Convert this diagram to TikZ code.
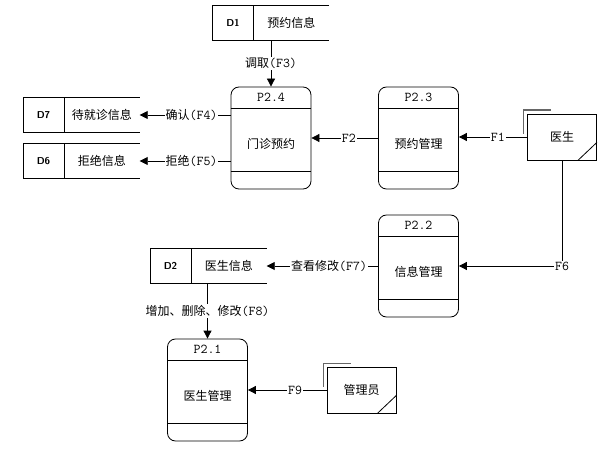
\documentclass[tikz,border=0pt]{standalone}
\usepackage{fontspec}
\setmainfont{Noto Sans CJK SC}
\usetikzlibrary{arrows.meta,positioning}
\newcommand\fid[1]{{\ttfamily\fontsize{13.5}{15}\selectfont#1}}

\begin{document}
\begin{tikzpicture}[x=1pt,y=-1pt,line width=0.8pt,font=\fontsize{12}{14}\selectfont,
		proc/.style={draw,rounded corners=8pt,minimum width=80pt,minimum height=102pt,inner sep=0pt},
		storeid/.style={minimum width=40pt,minimum height=34pt,inner sep=0pt,font=\sffamily\bfseries\fontsize{10}{12}\selectfont},
		storename/.style={minimum width=75pt,minimum height=34pt,inner sep=0pt},
		entity/.style={draw,minimum width=69pt,minimum height=46pt,inner sep=0pt},
		flow/.style={-{Triangle[length=8pt,width=8pt]}},
		lbl/.style={fill=white,inner sep=1pt}]
		\useasboundingbox (0,0) rectangle (599,454);
		\node[proc] (p24) at (271,138) {};
		\node[proc] (p23) at (418.5,138) {};
		\node[proc] (p22) at (418.5,266) {};
		\node[proc] (p21) at (207.5,390) {};
		\foreach \p/\n/\t in {p24/P2.4/门诊预约,p23/P2.3/预约管理,p22/P2.2/信息管理,p21/P2.1/医生管理} {
			\draw ([yshift=-22pt]\p.north west) -- ([yshift=-22pt]\p.north east);
			\draw ([yshift=18pt]\p.south west) -- ([yshift=18pt]\p.south east);
			\node (\p-id) at ([yshift=-11pt]\p.north) {\fid{\n}};
			\node (\p-name) at ([yshift=-6pt]\p.center) {\t};
		}
		\foreach \d/\i/\t/\x/\y in {d1/D1/预约信息/233/23,d7/D7/待就诊信息/43.5/115,d6/D6/拒绝信息/43.5/161,d2/D2/医生信息/170.5/266} {
			\node[storeid] (\d-id) at (\x,\y) {\i};
			\node[storename,right=0pt of \d-id] (\d) {\t};
			\draw (\d.north east) -- (\d-id.north west) -- (\d-id.south west) -- (\d.south east);
			\draw (\d-id.north east) -- (\d-id.south east);
		}
		\node[entity] (doc) at (562,137) {医生};
		\node[entity] (adm) at (361.5,390) {管理员};
		\foreach \e in {doc,adm} {
			\draw[gray!80!black,line width=1.2pt] ([xshift=-3.5pt,yshift=-20pt]\e.north west) -- ([xshift=-3.5pt,yshift=3.5pt]\e.north west) -- ([xshift=24pt,yshift=3.5pt]\e.north west);
			\draw ([xshift=-19pt]\e.south east) -- ([yshift=18pt]\e.south east);
		}
		\draw[flow] (p24.north |- d1.south) -- node[lbl] {调取\fid{(F3)}} (p24.north);
		\draw[flow] (p24.west |- d7) -- node[lbl,pos=0.43] {确认\fid{(F4)}} (d7.east);
		\draw[flow] (p24.west |- d6) -- node[lbl,pos=0.43] {拒绝\fid{(F5)}} (d6.east);
		\draw[flow] (p23.west) -- node[lbl,pos=0.44] {\fid{F2}} (p24.east);
		\draw[flow] (doc.west) -- node[lbl,pos=0.43] {\fid{F1}} (p23.east |- doc.west);
		\draw[flow] (doc.south) |- node[lbl] {\fid{F6}} (p22.east);
		\draw[flow] (p22.west) -- node[lbl,pos=0.44] {查看修改\fid{(F7)}} (d2.east);
		\draw[flow] (p21.north |- d2.south) -- node[lbl] {增加、删除、修改\fid{(F8)}} (p21.north);
		\draw[flow] (adm.west) -- node[lbl,pos=0.4] {\fid{F9}} (p21.east |- adm.west);
	\end{tikzpicture}
\end{document}
